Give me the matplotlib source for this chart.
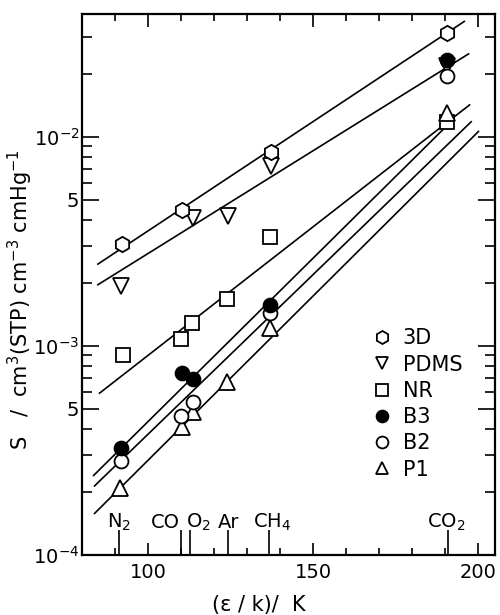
import matplotlib
matplotlib.use('Agg')
import matplotlib.pyplot as plt
import numpy as np
from matplotlib.ticker import FixedLocator, FixedFormatter, NullFormatter

plt.rcParams['font.family'] = ['DejaVu Sans']
plt.rcParams['mathtext.fontset'] = 'dejavusans'

# gases marked along the bottom, eps/k in K
gas_names = ['N$_2$', 'CO', 'O$_2$', 'Ar', 'CH$_4$', 'CO$_2$']
gas_eps = [91.3, 110.0, 112.8, 124.3, 136.6, 190.7]

# solubility S per polymer
eps_3d = [92.0, 110.3, 137.2, 190.6]
S_3d = [3.07e-3, 4.48e-3, 8.41e-3, 3.15e-2]
eps_pdms = [91.8, 113.6, 124.3, 137.2, 190.6]
S_pdms = [1.94e-3, 4.08e-3, 4.16e-3, 7.21e-3, 2.19e-2]
eps_nr = [92.3, 110.0, 113.3, 123.8, 137.0, 190.6]
S_nr = [9.06e-4, 1.08e-3, 1.29e-3, 1.67e-3, 3.33e-3, 1.18e-2]
eps_b3 = [91.8, 110.2, 113.6, 136.8, 190.6]
S_b3 = [3.25e-4, 7.40e-4, 6.93e-4, 1.57e-3, 2.33e-2]
eps_b2 = [91.8, 110.0, 113.7, 136.8, 190.6]
S_b2 = [2.80e-4, 4.63e-4, 5.42e-4, 1.44e-3, 1.95e-2]
eps_p1 = [91.5, 110.2, 113.7, 123.8, 137.0, 190.5]
S_p1 = [2.09e-4, 4.11e-4, 4.85e-4, 6.75e-4, 1.22e-3, 1.30e-2]

# straight lines drawn through each set (start, end)
line_eps_3d = [84.8, 195.7]
line_S_3d = [2.46e-3, 3.56e-2]
line_eps_pdms = [84.8, 197.0]
line_S_pdms = [1.96e-3, 2.49e-2]
line_eps_nr = [85.3, 197.3]
line_S_nr = [5.94e-4, 1.42e-2]
line_eps_b3 = [83.5, 189.2]
line_S_b3 = [2.40e-4, 1.08e-2]
line_eps_b2 = [83.8, 197.8]
line_S_b2 = [2.14e-4, 1.18e-2]
line_eps_p1 = [83.8, 200.0]
line_S_p1 = [1.58e-4, 1.06e-2]

x_major = [100, 150, 200]
x_minor = [90, 110, 120, 130, 140, 160, 170, 180, 190]
y_major = [1e-4, 5e-4, 1e-3, 5e-3, 1e-2]
y_major_labels = ['$10^{-4}$', '5', '$10^{-3}$', '5', '$10^{-2}$']
y_minor = [k * d for d in [1e-4, 1e-3, 1e-2] for k in [2, 3, 4, 6, 7, 8, 9]]

fig = plt.figure(figsize=(5, 6.15), dpi=100)
ax = fig.add_axes([82/500, 1 - 555/615, (495 - 82)/500, (555 - 14)/615])

for lx, ly in [(line_eps_3d, line_S_3d), (line_eps_pdms, line_S_pdms),
               (line_eps_nr, line_S_nr), (line_eps_b3, line_S_b3),
               (line_eps_b2, line_S_b2), (line_eps_p1, line_S_p1)]:
    ax.plot(lx, ly, color='black', lw=1.2, zorder=2)

mk = dict(linestyle='none', markeredgecolor='black', markeredgewidth=1.3, zorder=3)
h_pdms, = ax.plot(eps_pdms, S_pdms, marker='v', markersize=11, mfc='white', label='PDMS', **mk)
h_3d, = ax.plot(eps_3d, S_3d, marker='h', markersize=11, mfc='white', label='3D', **mk)
h_nr, = ax.plot(eps_nr, S_nr, marker='s', markersize=9.5, mfc='white', label='NR', **mk)
h_p1, = ax.plot(eps_p1, S_p1, marker='^', markersize=11, mfc='white', label='P1', **mk)
h_b2, = ax.plot(eps_b2, S_b2, marker='o', markersize=10, mfc='white', label='B2', **mk)
h_b3, = ax.plot(eps_b3, S_b3, marker='o', markersize=10, mfc='black', label='B3', **mk)

# gas markers on the bottom axis
ax.vlines(gas_eps, 0, 0.046, transform=ax.get_xaxis_transform(), color='black', lw=1.2)
gas_ha = ['center', 'right', 'left', 'center', 'center', 'center']
gas_dx = [0, -0.4, -1.2, 0, 1.0, -0.4]
for name, e, ha, dx in zip(gas_names, gas_eps, gas_ha, gas_dx):
    ax.text(e + dx, 0.05, name, transform=ax.get_xaxis_transform(),
            ha=ha, va='baseline', fontsize=14)

ax.set_xlim(80, 205)
ax.set_yscale('log')
ax.set_ylim(1e-4, 10**-1.413)

ax.xaxis.set_major_locator(FixedLocator(x_major))
ax.xaxis.set_minor_locator(FixedLocator(x_minor))
ax.yaxis.set_major_locator(FixedLocator(y_major))
ax.yaxis.set_major_formatter(FixedFormatter(y_major_labels))
ax.yaxis.set_minor_locator(FixedLocator(y_minor))
ax.yaxis.set_minor_formatter(NullFormatter())

ax.tick_params(which='both', direction='in', top=True, right=True, width=1.2, labelsize=14)
ax.tick_params(axis='x', which='major', length=9, pad=6)
ax.tick_params(axis='x', which='minor', length=5)
ax.tick_params(axis='y', which='major', length=12, pad=2)
ax.tick_params(axis='y', which='minor', length=7)
for sp in ax.spines.values():
    sp.set_linewidth(1.6)

ax.legend(handles=[h_3d, h_pdms, h_nr, h_b3, h_b2, h_p1], loc='upper left',
          bbox_to_anchor=(0.703, 0.419), frameon=False, fontsize=15,
          handlelength=0.95, handletextpad=0.5, labelspacing=0.3,
          borderpad=0, borderaxespad=0, markerscale=0.85)

fig.text(259/500, 1 - 605/615, '(ε / k)/  K', ha='center', va='center', fontsize=15)
fig.text(20/500, 1 - 300/615, 'S   /  cm$^3$(STP) cm$^{-3}$ cmHg$^{-1}$',
         rotation=90, ha='center', va='center', fontsize=15)

fig.savefig('out.png', dpi=100)
